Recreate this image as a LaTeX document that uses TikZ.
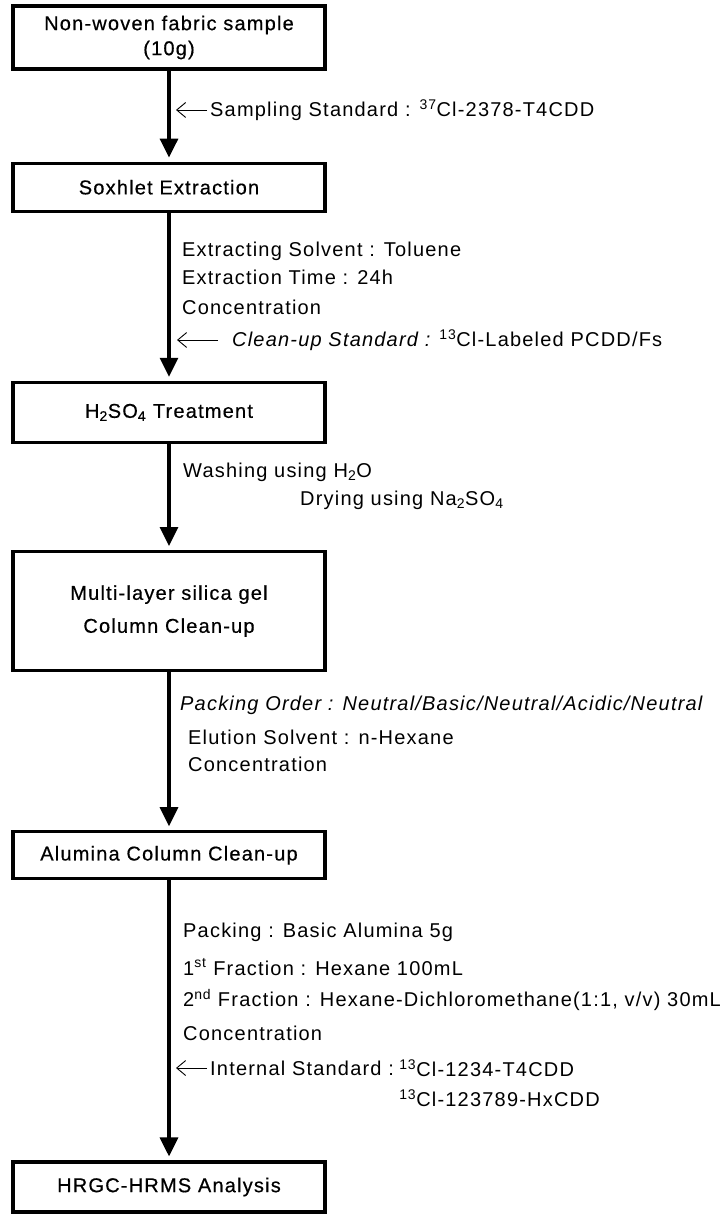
\documentclass[tikz,border=0pt]{standalone}
\usepackage{fontspec}
\newfontfamily\flowfont{Liberation Sans}[LetterSpace=6]
\newfontfamily\stagefont{Liberation Sans}[LetterSpace=6,FakeBold=0.5]
\usepackage{tikz}
\usetikzlibrary{positioning,arrows.meta,calc}

\begin{document}
\begin{tikzpicture}[
  x=1pt, y=-1pt,
  stage/.style={draw, line width=3.2pt, minimum width=312pt, inner sep=0pt,
                align=center, font=\stagefont\fontsize{20}{25}\selectfont},
  note/.style={anchor=west, inner sep=0pt, font=\flowfont\fontsize{20}{22}\selectfont},
  flow/.style={-{Triangle[length=19pt,width=18pt]}, line width=3.2pt, shorten >=4pt},
  feed/.style={-{Straight Barb[length=9pt,width=15pt]}, line width=0.9pt, shorten <=3pt}
]
  \useasboundingbox (0,0) rectangle (726,1222);

  \node[stage, minimum height=63pt] (src) at (169,37.5) {Non-woven fabric sample\\(10g)};
  \node[stage, minimum height=48pt, below=91pt of src] (soxh) {Soxhlet Extraction};
  \node[stage, minimum height=60pt, below=168pt of soxh] (acid) {H\textsubscript{2}SO\textsubscript{4} Treatment};
  \node[stage, minimum height=119pt, below=106pt of acid] (silica) {Multi-layer silica gel\\[8pt]Column Clean-up};
  \node[stage, minimum height=47pt, below=158pt of silica] (alumina) {Alumina Column Clean-up};
  \node[stage, minimum height=50pt, below=280pt of alumina] (hrms) {HRGC-HRMS Analysis};

  \draw[flow] (src) -- (soxh);
  \draw[flow] (soxh) -- (acid);
  \draw[flow] (acid) -- (silica);
  \draw[flow] (silica) -- (alumina);
  \draw[flow] (alumina) -- (hrms);

  \node[note] (stdsamp) at (210,110) {Sampling Standard : \textsuperscript{37}Cl-2378-T4CDD};
  \draw[feed] (stdsamp.west) -- ($(stdsamp.west -| src.south)+(7,0)$);

  \node[note] (solv) at (182,251) {Extracting Solvent : Toluene};
  \node[note] (etime) at (182,277) {Extraction Time : 24h};
  \node[note] (conc1) at (182,307) {Concentration};
  \node[note] (stdclean) at (232,340) {\itshape Clean-up Standard : \upshape\textsuperscript{13}Cl-Labeled PCDD/Fs};
  \draw[feed] ([xshift=-11pt]stdclean.west) -- ($(stdclean.west -| soxh.south)+(8,0)$);

  \node[note] (wash) at (183,472) {Washing using H\textsubscript{2}O};
  \node[note] (dry) at (300,500) {Drying using Na\textsubscript{2}SO\textsubscript{4}};

  \node[note] (order) at (180,705) {\itshape Packing Order : Neutral/Basic/Neutral/Acidic/Neutral};
  \node[note] (elute) at (188,737) {Elution Solvent : n-Hexane};
  \node[note] (conc2) at (188,764) {Concentration};

  \node[note] (pack) at (183,932) {Packing : Basic Alumina 5g};
  \node[note] (frac1) at (183,967) {1\textsuperscript{st} Fraction : Hexane 100mL};
  \node[note] (frac2) at (183,1000) {2\textsuperscript{nd} Fraction : Hexane-Dichloromethane(1:1, v/v) 30mL};
  \node[note] (conc3) at (183,1033) {Concentration};

  \node[note] (stdint) at (210,1068) {Internal Standard :};
  \node[note, right=5pt of stdint] (stdintA) {\textsuperscript{13}Cl-1234-T4CDD};
  \node[note] (stdintB) at ([yshift=-30pt]stdintA.west) {\textsuperscript{13}Cl-123789-HxCDD};
  \draw[feed] (stdint.west) -- ($(stdint.west -| alumina.south)+(7,0)$);
\end{tikzpicture}
\end{document}
